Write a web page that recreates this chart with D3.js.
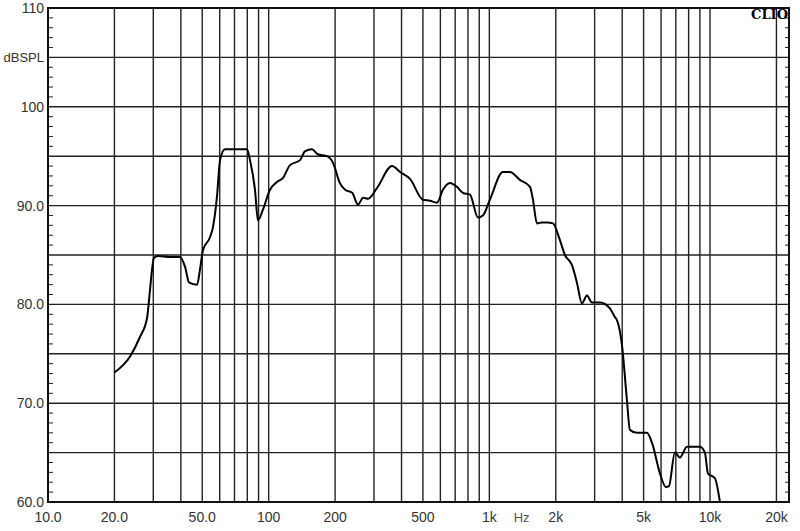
<!DOCTYPE html>
<html>
<head>
<meta charset="utf-8">
<script src="https://cdn.jsdelivr.net/npm/d3@7"></script>
<style>
  html, body { margin: 0; padding: 0; background: #fff; }
  svg { display: block; }
</style>
</head>
<body>
<svg id="chart" width="800" height="531"></svg>
<script>
// ---- data ----
const freqs = [20, 23.5, 26.1, 28.1, 29.0, 29.6, 30.2, 31.5, 35.7, 39.6, 41.8, 43.6, 47.4, 48.8, 50.4, 54.2, 55.9, 58.3, 60.2, 63.4, 71.1, 79.8, 82.3, 86.7, 89.4, 94.2, 101.4, 109.1, 116.1, 124.9, 138.7, 146, 157, 167, 184, 196, 210, 222, 239, 254, 268, 282, 310, 362, 394, 437, 500, 538, 579, 616, 663, 713, 759, 817, 888, 935, 1006, 1152, 1240, 1376, 1528, 1576, 1643, 1731, 1824, 1942, 2089, 2200, 2367, 2494, 2628, 2769, 2917, 3171, 3520, 3708, 3787, 3989, 4203, 4335, 4665, 5178, 5456, 5929, 6312, 6513, 6934, 7305, 7860, 9000, 9482, 9783, 10525, 11090];
const spl = [73.1, 74.7, 76.7, 78.6, 81.5, 83.5, 84.7, 84.9, 84.8, 84.8, 83.8, 82.2, 82.0, 83.5, 85.5, 86.8, 87.8, 90.9, 94.6, 95.7, 95.7, 95.7, 94.6, 91.6, 88.5, 89.6, 91.6, 92.4, 92.8, 94.1, 94.6, 95.5, 95.7, 95.2, 95.0, 94.3, 92.3, 91.6, 91.3, 90.1, 90.8, 90.7, 91.8, 94.0, 93.4, 92.7, 90.6, 90.5, 90.3, 91.6, 92.3, 91.9, 91.3, 91.1, 88.8, 89.0, 90.6, 93.4, 93.4, 92.6, 91.9, 90.6, 88.2, 88.3, 88.3, 88.2, 86.5, 85.0, 84.0, 82.2, 80.1, 80.9, 80.2, 80.2, 79.6, 78.7, 78.4, 75.9, 70.3, 67.3, 67.0, 67.0, 66.0, 62.9, 61.5, 61.6, 65.0, 64.5, 65.6, 65.6, 65.0, 62.9, 62.4, 60.0];

const xDomain = [10, 22800];
const yDomain = [60, 110];
const xGrid = [20,30,40,50,60,70,80,90,100,200,300,400,500,600,700,800,900,1000,2000,3000,4000,5000,6000,7000,8000,9000,10000,20000];
const xTickValues = [10, 20, 50, 100, 200, 500, 1000, 2000, 5000, 10000, 20000];
const xTickLabels = ["10.0", "20.0", "50.0", "100", "200", "500", "1k", "2k", "5k", "10k", "20k"];
const yGrid = [65, 70, 75, 80, 85, 90, 95, 100, 105];
const yTickValues = [110, 100, 90, 80, 70, 60];
const yTickLabels = ["110", "100", "90.0", "80.0", "70.0", "60.0"];
const yUnitLabel = { value: 105, text: "dBSPL" };
const xUnitLabel = { value: 1400, text: "Hz" };
const brand = "CLIO";

// ---- layout ----
const svg = d3.select("#chart");
const L = 48, R = 789, T = 8, B = 502;

const x = d3.scaleLog().domain(xDomain).range([L, R]);
const y = d3.scaleLinear().domain(yDomain).range([B, T]);

const g = svg.append("g");

// vertical grid
g.selectAll("line.vg").data(xGrid).enter().append("line")
  .attr("x1", d => x(d)).attr("x2", d => x(d))
  .attr("y1", T).attr("y2", B)
  .attr("stroke", "#222").attr("stroke-width", 1.4);

// horizontal grid
g.selectAll("line.hg").data(yGrid).enter().append("line")
  .attr("x1", L).attr("x2", R)
  .attr("y1", d => y(d)).attr("y2", d => y(d))
  .attr("stroke", "#222").attr("stroke-width", 1.4);

// minor ticks every 1 dB on left and right, pointing inward
const minor = d3.range(61, 110).filter(v => v % 5 !== 0);
g.selectAll("line.lt").data(minor).enter().append("line")
  .attr("x1", L).attr("x2", L + 5)
  .attr("y1", d => y(d)).attr("y2", d => y(d))
  .attr("stroke", "#222").attr("stroke-width", 1);
g.selectAll("line.rt").data(minor).enter().append("line")
  .attr("x1", R - 4).attr("x2", R)
  .attr("y1", d => y(d)).attr("y2", d => y(d))
  .attr("stroke", "#222").attr("stroke-width", 1);

// frame
g.append("rect")
  .attr("x", L).attr("y", T).attr("width", R - L).attr("height", B - T)
  .attr("fill", "none").attr("stroke", "#111").attr("stroke-width", 2);

// curve
const pts = freqs.map((f, i) => [f, spl[i]]);
const line = d3.line()
  .x(d => x(d[0])).y(d => y(d[1]))
  .curve(d3.curveMonotoneX);
g.append("path").datum(pts)
  .attr("d", line)
  .attr("fill", "none").attr("stroke", "#000")
  .attr("stroke-width", 2).attr("stroke-linejoin", "round");

// y labels
const font = "'Liberation Sans', Arial, sans-serif";
g.selectAll("text.yl").data(yTickValues).enter().append("text")
  .attr("x", L - 4).attr("y", d => y(d))
  .attr("dy", "0.35em")
  .attr("text-anchor", "end")
  .attr("font-family", font).attr("font-size", 14).attr("fill", "#333")
  .text((d, i) => yTickLabels[i]);
g.append("text")
  .attr("x", L - 4).attr("y", y(yUnitLabel.value)).attr("dy", "0.35em")
  .attr("text-anchor", "end")
  .attr("font-family", font).attr("font-size", 13).attr("fill", "#333")
  .text(yUnitLabel.text);

// x labels
g.selectAll("text.xl").data(xTickValues).enter().append("text")
  .attr("x", d => x(d)).attr("y", 517).attr("dy", "0.35em")
  .attr("text-anchor", "middle")
  .attr("font-family", font).attr("font-size", 14).attr("fill", "#333")
  .text((d, i) => xTickLabels[i]);
g.append("text")
  .attr("x", x(xUnitLabel.value)).attr("y", 517).attr("dy", "0.35em")
  .attr("text-anchor", "middle")
  .attr("font-family", font).attr("font-size", 13).attr("fill", "#555")
  .text(xUnitLabel.text);

// brand
g.append("text")
  .attr("x", R - 1).attr("y", 14).attr("dy", "0.35em")
  .attr("text-anchor", "end")
  .attr("font-family", "'DejaVu Serif', 'Liberation Serif', serif")
  .attr("font-weight", "bold").attr("font-size", 13).attr("fill", "#000")
  .text(brand);
</script>
</body>
</html>
